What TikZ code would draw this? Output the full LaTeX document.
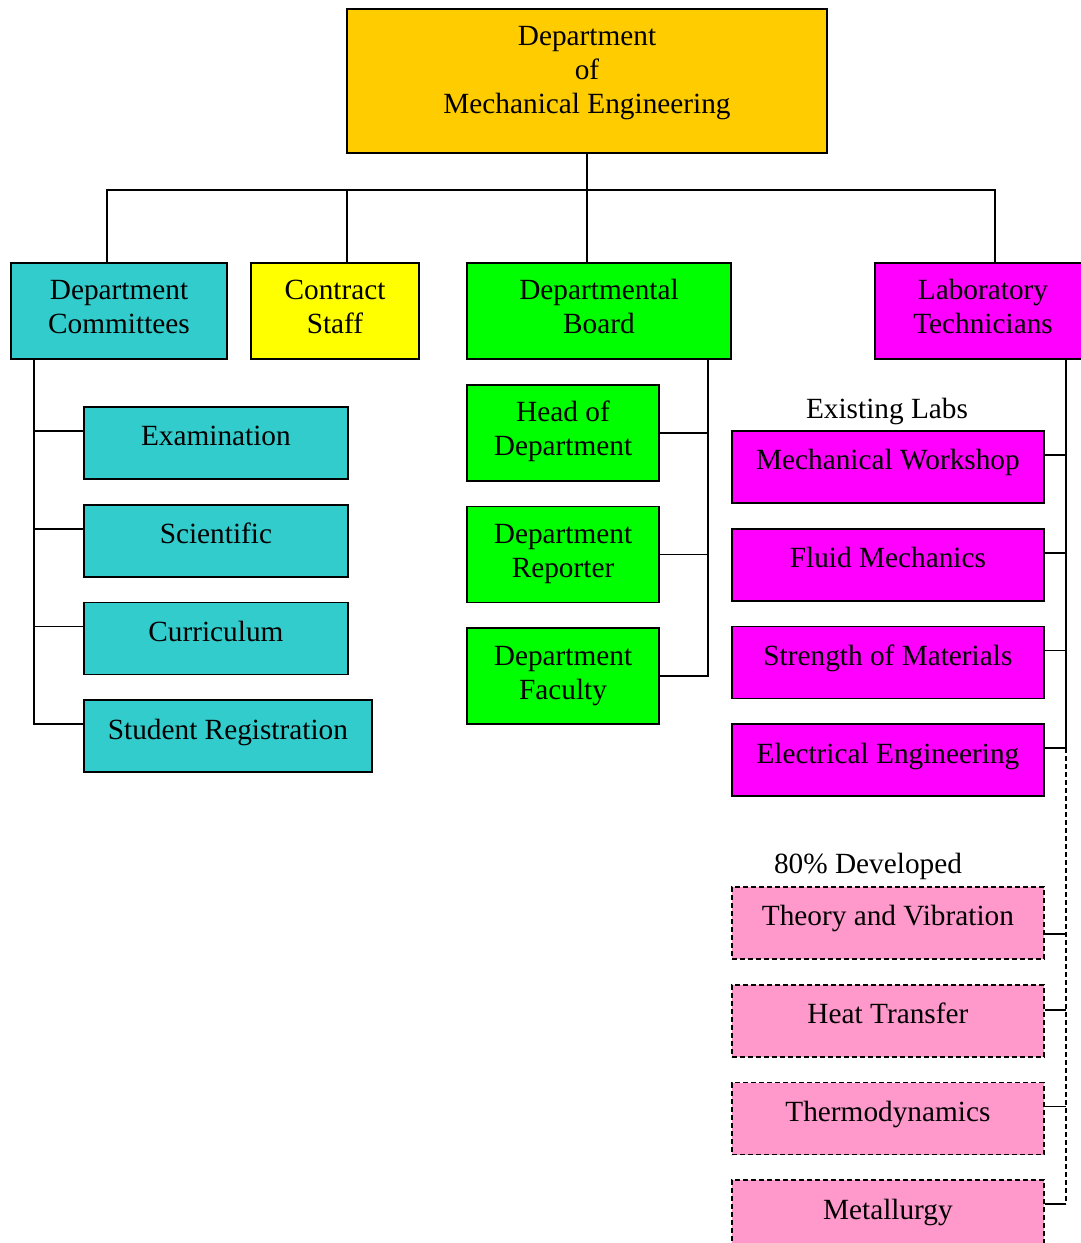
\documentclass[tikz,border=0pt]{standalone}
\usepackage{fontspec}
\setmainfont{Liberation Serif}
\usepackage{tikz}
\usetikzlibrary{positioning}
\definecolor{deptgold}{HTML}{FFCC00}
\definecolor{committee}{HTML}{33CCCC}
\definecolor{staffyellow}{HTML}{FFFF00}
\definecolor{boardgreen}{HTML}{00FF00}
\definecolor{labmagenta}{HTML}{FF00FF}
\definecolor{planpink}{HTML}{FF99CC}
\tikzstyle{novertex} = [draw=none, fill=none, text centered]
\tikzstyle{unit} = [rectangle, draw, line width=1.8pt, align=center, inner xsep=2pt, inner ysep=0pt]
\tikzstyle{oneline} = [unit, minimum height=72pt, text height=39pt, text depth=33pt]
\tikzstyle{twoline} = [unit, minimum height=96pt, text height=71pt, text depth=25pt]
\tikzstyle{planned} = [oneline, fill=planpink, dash pattern=on 5pt off 3pt]
\tikzstyle{link} = [draw, line width=1.8pt]

\begin{document}
\begin{tikzpicture}[x=1pt, y=-1pt, font=\fontsize{29.3}{34}\selectfont]
	\useasboundingbox (0,0) rectangle (1080,1243);

	% head node
	\node [unit, fill=deptgold, minimum width=480pt, minimum height=144pt, text height=105pt, text depth=39pt, anchor=north] (dme) at (587,8) {Department\\of\\Mechanical Engineering};

	% second row
	\node [twoline, fill=committee, minimum width=216pt, anchor=north]   (dcom)    at (119,262) {Department\\Committees};
	\node [twoline, fill=staffyellow, minimum width=168pt, anchor=north] (cstaff)  at (335,262) {Contract\\Staff};
	\node [twoline, fill=boardgreen, minimum width=264pt, anchor=north]  (dboard)  at (599,262) {Departmental\\Board};
	\node [twoline, fill=labmagenta, minimum width=216pt, anchor=north]  (labtech) at (983,262) {Laboratory\\Technicians};

	% committees
	\node [oneline, fill=committee, minimum width=264pt, anchor=north west] (exam) at (83,406) {Examination};
	\node [oneline, fill=committee, minimum width=264pt, below=24pt of exam]   (scient) {Scientific};
	\node [oneline, fill=committee, minimum width=264pt, below=24pt of scient] (curric) {Curriculum};
	\node [oneline, fill=committee, minimum width=288pt, anchor=north west] (streg) at ([yshift=-24pt]curric.south west) {Student Registration};

	% board members
	\node [twoline, fill=boardgreen, minimum width=192pt, anchor=north west] (head) at ([yshift=-24pt]dboard.south west) {Head of\\Department};
	\node [twoline, fill=boardgreen, minimum width=192pt, below=24pt of head]     (reporter) {Department\\Reporter};
	\node [twoline, fill=boardgreen, minimum width=192pt, below=24pt of reporter] (faculty)  {Department\\Faculty};

	% labs
	\node [novertex] (exist) at (887,411) {Existing Labs};
	\node [oneline, fill=labmagenta, minimum width=312pt, anchor=north west] (mech) at (731,430) {Mechanical Workshop};
	\node [oneline, fill=labmagenta, minimum width=312pt, below=24pt of mech]     (fluid)    {Fluid Mechanics};
	\node [oneline, fill=labmagenta, minimum width=312pt, below=24pt of fluid]    (strength) {Strength of Materials};
	\node [oneline, fill=labmagenta, minimum width=312pt, below=24pt of strength] (elec)     {Electrical Engineering};

	\node [novertex] (devel) at (868,866) {80\% Developed};
	\node [planned, minimum width=312pt, anchor=north west] (theory) at (731,886) {Theory and Vibration};
	\node [planned, minimum width=312pt, below=24pt of theory] (heat)   {Heat Transfer};
	\node [planned, minimum width=312pt, below=24pt of heat]   (thermo) {Thermodynamics};
	\node [planned, minimum width=312pt, below=24pt of thermo] (metal)  {Metallurgy};

	% draw edges
	\coordinate (bus) at (587,190);
	\path [link] (dme.south) -- (bus);
	\path [link] ([xshift=-12pt]dcom.north) |- (bus) -| ([xshift=12pt]labtech.north);
	\path [link] ([xshift=12pt]cstaff.north) |- (bus);
	\path [link] ([xshift=-12pt]dboard.north) -- (bus);

	\foreach \n in {exam,scient,curric,streg}
		\path [link] ([yshift=12pt]\n.west) -| ([xshift=24pt]dcom.south west);
	\foreach \n in {head,reporter,faculty}
		\path [link] (\n.east) -| ([xshift=-24pt]dboard.south east);

	\coordinate (labline) at ([xshift=192pt]labtech.south west);
	\foreach \n/\s in {mech/12,fluid/12,strength/12,elec/12,theory/-11,heat/11,thermo/12,metal/12} {
		\coordinate (\n-end) at ([yshift=\s pt]\n.east);
		\path [link] (\n-end) -- (\n-end -| labline);
	}
	\path [link] (labline) -- (labline |- elec-end);
	\path [link, dash pattern=on 5pt off 3pt] (labline |- elec-end) -- (labline |- metal-end);
\end{tikzpicture}
\end{document}
